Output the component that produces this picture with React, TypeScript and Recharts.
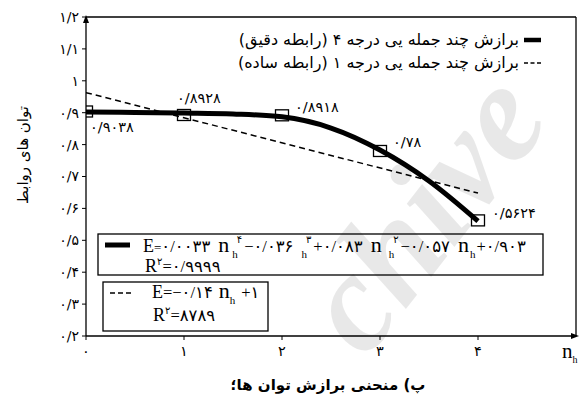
import React from 'react';
import {
  ComposedChart,
  Line,
  Scatter,
  XAxis,
  YAxis,
  ReferenceLine,
  ReferenceDot,
} from 'recharts';

// Axis ticks
const nTicks = [0, 1, 2, 3, 4];
const eTicks = [0.2, 0.3, 0.4, 0.5, 0.6, 0.7, 0.8, 0.9, 1, 1.1, 1.2];

// Measured exponents
const measuredN = [0, 1, 2, 3, 4];
const measuredE = [0.9038, 0.8928, 0.8918, 0.78, 0.5624];

// Fourth-degree fit (sampled curve)
const quarticN = [0, 0.5, 1, 1.5, 2, 2.5, 3, 3.5, 4];
const quarticE = [0.902, 0.901, 0.899, 0.896, 0.887, 0.852, 0.783, 0.686, 0.56];

// First-degree fit
const linearN = [0, 4];
const linearE = [0.963, 0.648];

// Legend / caption texts
const legendQuartic = 'برازش چند جمله یی درجه ۴ (رابطه دقیق)';
const legendLinear = 'برازش چند جمله یی درجه ۱ (رابطه ساده)';
const yTitle = 'توان های روابط';
const caption = 'پ) منحنی برازش توان ها؛';
const stampLetters = ['c', 'h', 'i', 'v', 'e'];

const FA_DIGITS = '۰۱۲۳۴۵۶۷۸۹';
const toFa = (v: number | string) =>
  String(v)
    .replace(/\d/g, (d) => FA_DIGITS[+d])
    .replace('.', '/');

const zip = (xs: number[], ys: number[]) => xs.map((n, i) => ({ n, e: ys[i] }));
const measuredData = zip(measuredN, measuredE);
const quarticData = zip(quarticN, quarticE);
const linearData = zip(linearN, linearE);

// label placement relative to each marker (start of text, baseline)
const LABEL_OFFSETS = [
  { dx: 4, dy: 21 },
  { dx: -7, dy: -12 },
  { dx: 13, dy: -3 },
  { dx: 13, dy: -4 },
  { dx: 14, dy: -2 },
];

// diagonal stamp: origin, angle and advance of each glyph along the baseline
const STAMP_ORIGIN = { x: 366, y: 360 };
const STAMP_ANGLE = 52;
const STAMP_ADVANCE = [0, 62, 140, 179, 241];

const FA_FONT = "'DejaVu Sans', sans-serif";
const SERIF = "'Liberation Serif', 'DejaVu Sans', serif";

type Piece = [string, number, number, number?]; // text, size, baseline shift, dx

const Pieces = ({ pieces }: { pieces: Piece[] }) => {
  let prev = 0;
  return (
    <>
      {pieces.map(([t, fs, sh, dx], i) => {
        const dy = sh - prev;
        prev = sh;
        return (
          <tspan key={i} fontSize={fs} dy={dy} dx={dx || 0}>
            {t}
          </tspan>
        );
      })}
    </>
  );
};

const D = 16.5; // digit size
const N = 22; // n size
const SUB = 11;
const SUP = 10;

const quarticEq: Piece[] = [
  ['E', 18, 0],
  ['=', 13, 0],
  ['۰/۰۰۳۳', D, 0],
  ['n', N, 0, 8],
  ['h', SUB, 6, 3],
  ['۴', SUP, -9, -1],
  ['−۰/۰۳۶', D, 0, 2],
  ['h', SUB, 6, 8],
  ['۳', SUP, -9, -1],
  ['+۰/۰۸۳', D, 0, 2],
  ['n', N, 0, 8],
  ['h', SUB, 6, 7],
  ['۲', SUP, -9, -1],
  ['−۰/۰۵۷', D, 0, 2],
  ['n', N, 0, 8],
  ['h', SUB, 6, 1],
  ['+۰/۹۰۳', D, 0, 1],
];

const quarticR: Piece[] = [
  ['R', 18, 0],
  ['۲', SUP, -7],
  ['=۰/۹۹۹۹', D, 0],
];

const linearEq: Piece[] = [
  ['E', 18, 0],
  ['=−۰/۱۴', D, 0],
  ['n', N, 0, 6],
  ['h', SUB, 6, 0],
  ['+۱', D, 0, 6],
];

const linearR: Piece[] = [
  ['R', 18, 0],
  ['۲', SUP, -7],
  ['=۸۷۸۹', D, 0],
];

const MarkerShape = (props: any) => {
  const { cx, cy, payload } = props;
  const i = measuredN.indexOf(payload.n);
  const off = LABEL_OFFSETS[i] || { dx: 10, dy: -4 };
  return (
    <g>
      <rect x={cx - 6.5} y={cy - 5.5} width={13} height={11} fill="none" stroke="#000" strokeWidth={1.3} />
      <text x={cx + off.dx} y={cy + off.dy} fontSize={14.5} fontFamily={FA_FONT} fill="#000">
        {toFa(payload.e)}
      </text>
    </g>
  );
};

const XArrow = (props: any) => {
  const { cx, cy } = props;
  return (
    <g>
      <path d={`M ${cx + 3} ${cy} L ${cx - 5} ${cy - 3} L ${cx - 5} ${cy + 3} Z`} fill="#000" />
      <text x={cx - 14} y={cy + 22} fontFamily={SERIF} fill="#000">
        <tspan fontSize={21}>n</tspan>
        <tspan fontSize={10} dy={5}>h</tspan>
      </text>
    </g>
  );
};

const YArrow = (props: any) => {
  const { cx, cy } = props;
  return <path d={`M ${cx} ${cy - 2} L ${cx - 3} ${cy + 6} L ${cx + 3} ${cy + 6} Z`} fill="#000" />;
};

const Stamp = () => {
  const rad = (STAMP_ANGLE * Math.PI) / 180;
  return (
    <g>
      {stampLetters.map((ch, i) => {
        const px = STAMP_ORIGIN.x + STAMP_ADVANCE[i] * Math.cos(rad);
        const py = STAMP_ORIGIN.y - STAMP_ADVANCE[i] * Math.sin(rad);
        return (
          <text
            key={i}
            x={px}
            y={py}
            transform={`rotate(${-STAMP_ANGLE}, ${px}, ${py})`}
            fontSize={140}
            fontStyle="italic"
            fontWeight="bold"
            fontFamily="'Liberation Serif', serif"
            fill="#000"
            fillOpacity={0.09}
          >
            {ch}
          </text>
        );
      })}
    </g>
  );
};

export default function App() {
  return (
    <div style={{ position: 'absolute', left: 0, top: 0, width: 579, height: 405, background: '#fff' }}>
      <ComposedChart
        width={579}
        height={405}
        margin={{ top: 17, right: 3, left: 0, bottom: 0 }}
      >
        <XAxis
          dataKey="n"
          type="number"
          domain={[0, 5]}
          ticks={nTicks}
          interval={0}
          height={69}
          tickSize={4}
          tickMargin={6}
          axisLine={{ stroke: '#000', strokeWidth: 1.3 }}
          tickLine={{ stroke: '#000' }}
          tick={{ fontSize: 14.5, fill: '#000', fontFamily: FA_FONT }}
          tickFormatter={(v: number) => toFa(v)}
          allowDataOverflow
        />
        <YAxis
          dataKey="e"
          type="number"
          domain={[0.2, 1.2]}
          ticks={eTicks}
          interval={0}
          width={86}
          tickSize={4}
          tickMargin={3}
          axisLine={{ stroke: '#000', strokeWidth: 1.3 }}
          tickLine={{ stroke: '#000' }}
          tick={{ fontSize: 14, fill: '#000', fontFamily: FA_FONT }}
          tickFormatter={(v: number) => toFa(Math.round(v * 10) / 10)}
          allowDataOverflow
        />
        <ReferenceLine y={1.2} stroke="#000" strokeWidth={1.3} />
        <ReferenceLine x={5} stroke="#000" strokeWidth={1.3} />
        <Line
          data={linearData}
          dataKey="e"
          type="linear"
          stroke="#000"
          strokeWidth={1.5}
          strokeDasharray="6 4"
          dot={false}
          isAnimationActive={false}
        />
        <Line
          data={quarticData}
          dataKey="e"
          type="monotone"
          stroke="#000"
          strokeWidth={5}
          dot={false}
          isAnimationActive={false}
        />
        <Scatter data={measuredData} dataKey="e" shape={MarkerShape} isAnimationActive={false} />
        <ReferenceDot x={5} y={0.2} shape={XArrow} />
        <ReferenceDot x={0} y={1.2} shape={YArrow} />
      </ComposedChart>

      <svg
        width={579}
        height={405}
        style={{ position: 'absolute', left: 0, top: 0, pointerEvents: 'none' }}
      >
        {/* legend */}
        <line x1={524} x2={541} y1={40} y2={40} stroke="#000" strokeWidth={4.5} />
        <text x={519} y={45} textAnchor="end" fontSize={16} fontFamily={FA_FONT} fill="#000">
          {legendQuartic}
        </text>
        <line x1={524} x2={541} y1={63} y2={63} stroke="#000" strokeWidth={1.3} strokeDasharray="4 2.5" />
        <text x={519} y={68} textAnchor="end" fontSize={16} fontFamily={FA_FONT} fill="#000">
          {legendLinear}
        </text>

        {/* fourth-degree equation box */}
        <rect x={98} y={234} width={445} height={41} fill="#fff" stroke="#000" strokeWidth={1.3} />
        <line x1={105} x2={130} y1={245} y2={245} stroke="#000" strokeWidth={5} />
        <text x={143} y={252} fontFamily={SERIF} fill="#000">
          <Pieces pieces={quarticEq} />
        </text>
        <text x={145} y={272} fontFamily={SERIF} fill="#000">
          <Pieces pieces={quarticR} />
        </text>

        {/* first-degree equation box */}
        <rect x={103} y={282} width={165} height={49} fill="#fff" stroke="#000" strokeWidth={1.3} />
        <line x1={110} x2={132} y1={293} y2={293} stroke="#000" strokeWidth={1.5} strokeDasharray="5 3" />
        <text x={152} y={298} fontFamily={SERIF} fill="#000">
          <Pieces pieces={linearEq} />
        </text>
        <text x={153} y={321} fontFamily={SERIF} fill="#000">
          <Pieces pieces={linearR} />
        </text>

        {/* axis title and caption */}
        <text
          x={23}
          y={155}
          transform="rotate(-90, 23, 155)"
          textAnchor="middle"
          dominantBaseline="middle"
          fontSize={15}
          fontFamily={FA_FONT}
          fill="#000"
        >
          {yTitle}
        </text>
        <text x={328} y={390} textAnchor="middle" fontSize={15} fontWeight="bold" fontFamily={FA_FONT} fill="#000">
          {caption}
        </text>

        <Stamp />
      </svg>
    </div>
  );
}
